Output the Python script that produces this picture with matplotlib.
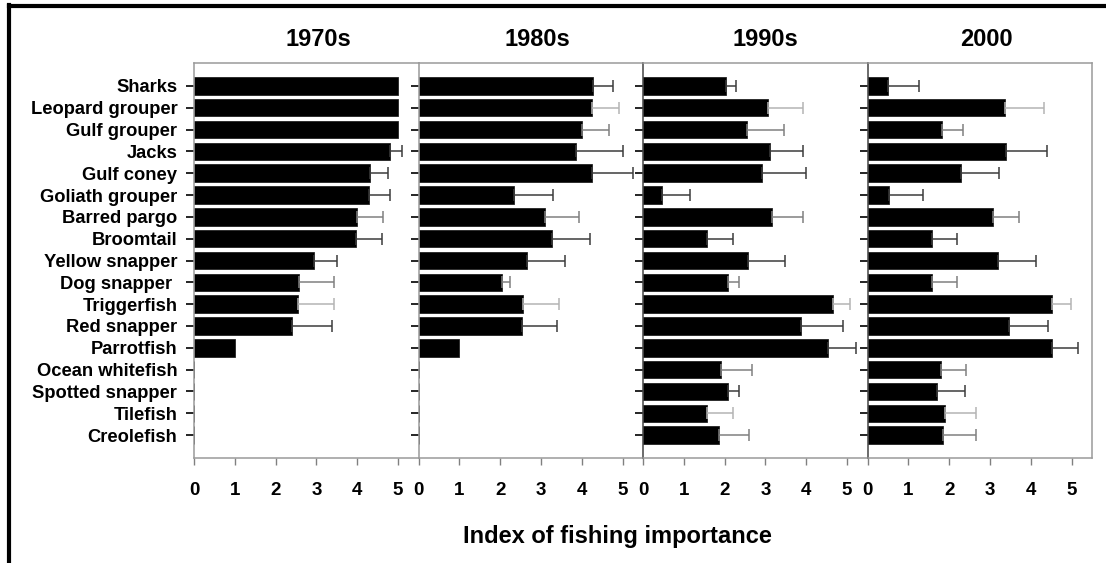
import numpy as np
import matplotlib
matplotlib.use("Agg")
import matplotlib.pyplot as plt
from matplotlib.lines import Line2D

plt.rcParams["font.family"] = ["Liberation Sans", "DejaVu Sans"]
plt.rcParams["font.weight"] = "bold"

species = [
    "Sharks", "Leopard grouper", "Gulf grouper", "Jacks", "Gulf coney",
    "Goliath grouper", "Barred pargo", "Broomtail", "Yellow snapper",
    "Dog snapper ", "Triggerfish", "Red snapper", "Parrotfish",
    "Ocean whitefish", "Spotted snapper", "Tilefish", "Creolefish",
]
decades = ["1970s", "1980s", "1990s", "2000"]

idx_1970s = [5.0, 5.0, 5.0, 4.80, 4.31, 4.29, 3.99, 3.97, 2.95, 2.57, 2.56, 2.40, 1.0, 0, 0, 0, 0]
err_1970s = [0, 0, 0, 0.29, 0.45, 0.51, 0.65, 0.63, 0.55, 0.86, 0.87, 0.97, 0, 0, 0, 0, 0]

idx_1980s = [4.28, 4.24, 4.01, 3.87, 4.24, 2.34, 3.11, 3.27, 2.66, 2.04, 2.55, 2.53, 1.0, 0, 0, 0, 0]
err_1980s = [0.48, 0.68, 0.66, 1.13, 1.02, 0.95, 0.81, 0.92, 0.93, 0.21, 0.89, 0.86, 0, 0, 0, 0, 0]

idx_1990s = [2.04, 3.07, 2.56, 3.12, 2.91, 0.47, 3.15, 1.56, 2.57, 2.08, 4.65, 3.86, 4.53, 1.92, 2.08, 1.56, 1.86]
err_1990s = [0.23, 0.85, 0.90, 0.80, 1.08, 0.69, 0.78, 0.64, 0.90, 0.28, 0.43, 1.03, 0.69, 0.75, 0.28, 0.64, 0.73]

idx_2000 = [0.49, 3.36, 1.83, 3.40, 2.30, 0.53, 3.07, 1.58, 3.20, 1.58, 4.52, 3.47, 4.53, 1.79, 1.70, 1.89, 1.86]
err_2000 = [0.78, 0.97, 0.52, 1.00, 0.92, 0.83, 0.63, 0.62, 0.94, 0.62, 0.47, 0.94, 0.62, 0.63, 0.68, 0.76, 0.79]

x_ticks = [0, 1, 2, 3, 4, 5]

values = [idx_1970s, idx_1980s, idx_1990s, idx_2000]
errors = [err_1970s, err_1980s, err_1990s, err_2000]

# grey level of each row's whisker and tick
DK, MD, LT = "#3c3c3c", "#808080", "#b4b4b4"
row_shades = [DK, LT, MD, DK, DK, DK, MD, DK, DK, MD, LT, DK, DK, MD, DK, LT, MD]

W, H = 1106, 563
fig = plt.figure(figsize=(W / 100, H / 100), dpi=100)

left_px, top_px, bottom_px, panel_w = 194, 63, 458, 224.5
title_x = [0.555, 0.53, 0.545, 0.53]

y = np.arange(len(species))
for i, (name, vals, errs) in enumerate(zip(decades, values, errors)):
    ax = fig.add_axes([(left_px + panel_w * i) / W, (H - bottom_px) / H,
                       panel_w / W, (bottom_px - top_px) / H])
    vals = np.asarray(vals, float)
    errs = np.asarray(errs, float)
    ax.barh(y, vals, height=0.8, color="black", edgecolor="#222222", linewidth=0.6, zorder=2)
    for k in range(len(species)):
        if errs[k] > 0:
            ax.errorbar(vals[k], y[k], xerr=[[0], [errs[k]]], fmt="none",
                        ecolor=row_shades[k], elinewidth=1.1, capsize=4.3,
                        capthick=1.1, zorder=3)
    ax.set_xlim(0, 5.5)
    ax.set_ylim(len(species) - 1 + 1.05, -1.05)
    ax.set_xticks(x_ticks)
    ax.set_xticklabels([str(t) for t in x_ticks], fontsize=13.5, fontweight="bold")
    ax.set_yticks(y)
    if i == 0:
        ax.set_yticklabels(species, fontsize=13.2, fontweight="bold")
    else:
        ax.set_yticklabels([])
    ax.tick_params(axis="x", direction="out", length=5, width=1, color="#808080", pad=12)
    ax.tick_params(axis="y", direction="out", length=6, width=1.2, pad=6)
    for k, t in enumerate(ax.yaxis.get_major_ticks()):
        t.tick1line.set_color(row_shades[k])
    for side, sp in ax.spines.items():
        sp.set_color("#9a9a9a")
        sp.set_linewidth(1.1)
    if i >= 2:
        ax.spines["left"].set_color("#444444")
    if i < 3:
        ax.spines["right"].set_visible(False)
    fig.text((left_px + panel_w * (i + title_x[i])) / W, 1 - 39 / H, name,
             ha="center", va="center", fontsize=17, fontweight="bold")

fig.text(617 / W, 1 - 536 / H, "Index of fishing importance",
         ha="center", va="center", fontsize=17, fontweight="bold")

# heavy frame along the top and left edges
fig.add_artist(Line2D([8.5 / W, 1.0], [1 - 6 / H, 1 - 6 / H], color="black",
                      linewidth=3.0, transform=fig.transFigure))
fig.add_artist(Line2D([8.5 / W, 8.5 / W], [0, 1 - 4.5 / H], color="black",
                      linewidth=3.0, transform=fig.transFigure))

fig.savefig("out.png", dpi=100, facecolor="white")
